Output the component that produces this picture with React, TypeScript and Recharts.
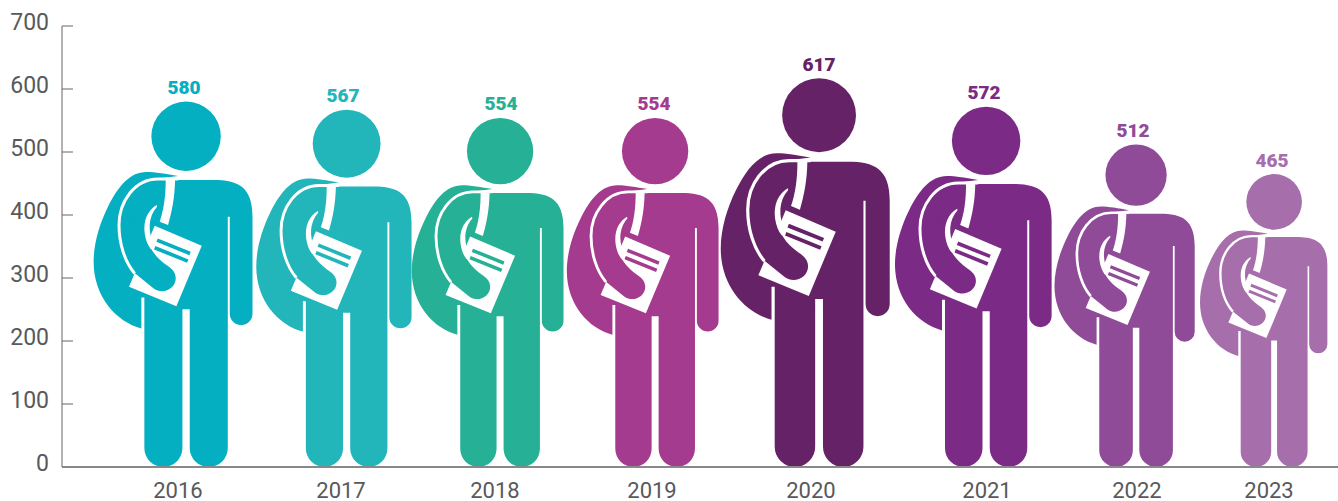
import React from "react";
import { BarChart, Bar, XAxis, YAxis, LabelList } from "recharts";

const years = ["2016", "2017", "2018", "2019", "2020", "2021", "2022", "2023"];
const counts = [580, 567, 554, 554, 617, 572, 512, 465];
const yTicks = [0, 100, 200, 300, 400, 500, 600, 700];

const colors = ["#03afc1", "#22b6bb", "#26b095", "#a53b8e", "#662266", "#7b2a85", "#8f4b98", "#a66eab"];
// the figures were placed by hand in the original, not on an even grid
const figureNudge = [8.6, 14.4, 13.1, 13.4, 22.6, 34.9, 30.1, 13.4];
const labelNudge = [6.6, 10.9, 14.1, 12.4, 22.6, 32.9, 27.1, 11.4];
const tickNudge = [0.6, 8.9, 8.1, 10.4, 14.6, 35.9, 31.1, 8.4];

const data = years.map((year, i) => ({ year, count: counts[i] }));

const FONT = "Roboto, sans-serif";
const TEXT = "#58595b";
const FIGURE_H = 1095;

function Person({ x, y, width, height, index }: any) {
  const fill = colors[index];
  const s = height / FIGURE_H;
  const cx = x + width / 2 + figureNudge[index];
  return (
    <g transform={`translate(${cx},${y}) scale(${s}) translate(-319,-95)`}>
      <circle cx={319} cy={199} r={104} fill={fill} />
      {/* backpack */}
      <path
        fill={fill}
        d="M295 318 C260 312 225 306 200 306 C150 306 115 350 85 410 C60 460 42 520 42 575 C42 680 110 755 185 775 L185 682 L200 682 L200 330 Z"
      />
      {/* body, arm and legs */}
      <path
        fill={fill}
        d="M200 330 L400 330 C475 330 518 350 518 440 L518 731 A34 34 0 0 1 450 731 L450 440 L444 440 L444 1133 A57 57 0 0 1 330 1133 L330 717 L308 717 L308 1133 A57 57 0 0 1 194 1133 L194 660 L125 470 Z"
      />
      {/* sheet of paper */}
      <path fill="#fff" d="M225 467 L366 527 L290 708 L148 650 Z" />
      <path stroke={fill} strokeWidth={11} d="M232 510 L331 550 M225 533 L324 573" />
      {/* holding arm */}
      <path
        fill={fill}
        d="M120 470 L160 605 L222 655 C250 675 288 655 288 625 C288 605 275 595 260 585 C225 560 205 530 197 490 L215 420 Z"
      />
      <path
        fill="none"
        stroke="#fff"
        strokeWidth={9}
        d="M295 327 L235 327 C165 327 118 395 118 465 C118 520 135 575 165 610"
      />
      {/* strap */}
      <path fill="#fff" d="M258 330 L286 330 C285 380 278 420 265 465 L240 455 C252 420 258 380 258 330 Z" />
      <path fill="#fff" d="M231 405 C205 420 190 450 195 490 C198 510 204 525 214 538 L222 520 C204 485 205 440 232 410 Z" />
    </g>
  );
}

function CountLabel({ x, y, width, value, index }: any) {
  return (
    <text
      x={x + width / 2 + labelNudge[index]}
      y={y - 14}
      textAnchor="middle"
      dominantBaseline="central"
      fontFamily={FONT}
      fontSize={19}
      fontWeight={900}
      fill={colors[index]}
    >
      {value}
    </text>
  );
}

function YTick({ x, y, payload }: any) {
  return (
    <g>
      {payload.value > 0 && <line x1={x} x2={x + 11} y1={y} y2={y} stroke="#666" strokeWidth={1} />}
      <text x={x - 13} y={y - 4} textAnchor="end" dominantBaseline="central" fontFamily={FONT} fontSize={23} fill={TEXT}>
        {payload.value}
      </text>
    </g>
  );
}

function XTick({ x, payload, index }: any) {
  return (
    <text x={x + tickNudge[index]} y={490} textAnchor="middle" dominantBaseline="central" fontFamily={FONT} fontSize={22} fill={TEXT}>
      {payload.value}
    </text>
  );
}

export default function App() {
  return (
    <div style={{ position: "absolute", left: 0, top: 0 }}>
      <BarChart width={1338} height={501} data={data} margin={{ top: 26, right: 0, bottom: 0, left: 0 }}>
        <XAxis
          dataKey="year"
          height={34}
          padding={{ left: 38, right: 0 }}
          tickLine={false}
          axisLine={{ stroke: "#888", strokeWidth: 2 }}
          tick={<XTick />}
          interval={0}
        />
        <YAxis
          width={62}
          domain={[0, 700]}
          ticks={yTicks}
          tickLine={false}
          tickSize={0}
          tickMargin={0}
          axisLine={{ stroke: "#666" }}
          tick={<YTick />}
          interval={0}
        />
        <Bar dataKey="count" shape={<Person />} isAnimationActive={false}>
          <LabelList dataKey="count" content={<CountLabel />} />
        </Bar>
      </BarChart>
    </div>
  );
}
